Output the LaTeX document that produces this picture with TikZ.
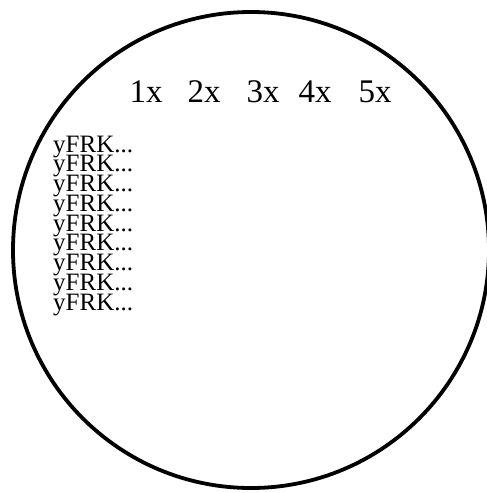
\documentclass[tikz,border=0pt]{standalone}
\usepackage{fontspec}
\setmainfont{Liberation Serif}
\usetikzlibrary{positioning}
\tikzset{
  scalelabel/.style={anchor=base,inner sep=0pt,font=\fontsize{33}{33}\selectfont},
  rowlabel/.style={anchor=base west,inner sep=0pt,text height=15pt,text depth=4pt,
    font=\fontsize{25}{25}\selectfont}
}

\begin{document}
\begin{tikzpicture}[x=1pt,y=-1pt]
        \useasboundingbox (0,0) rectangle (487,493);
        \fill[white] (0,0) rectangle (487,493);
        % outer ring
        \node[circle,draw=black,line width=3.8pt,minimum size=476pt,inner sep=0pt]
          (lens) at (251,250) {};
        % magnification labels
        \foreach \m/\px in {1/146,2/204,3/263,4/315,5/375}
          \node[scalelabel] (scale\m) at (\px,102) {\m x};
        % rows
        \foreach \r in {1,...,9}
          \node[rowlabel] (row\r) at (53,{152+19.75*(\r-1)}) {yFRK...};
      \end{tikzpicture}
\end{document}
